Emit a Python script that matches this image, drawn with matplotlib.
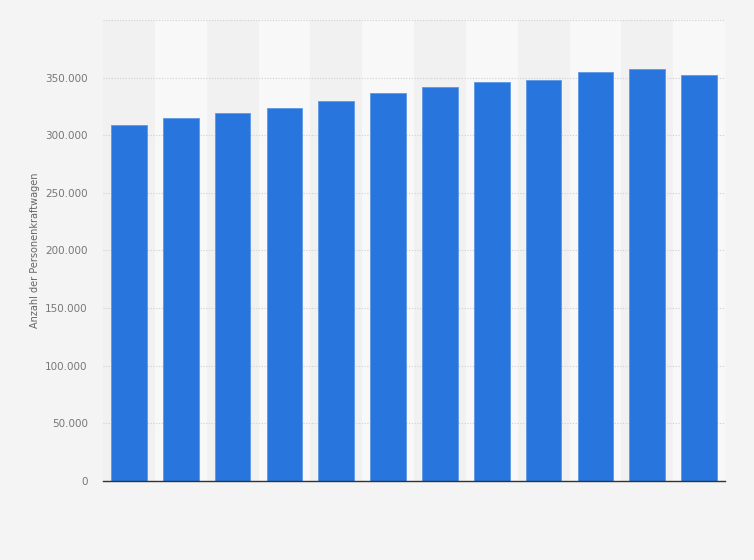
import matplotlib
matplotlib.use('Agg')
import matplotlib.pyplot as plt
from matplotlib.ticker import FuncFormatter

# Werte pro Jahr (Jahre im Original nicht beschriftet)
slots = list(range(12))
values = [309300, 314800, 319700, 323500, 329600, 336300,
          341500, 346100, 347800, 354800, 357400, 352200]
yticks = [0, 50000, 100000, 150000, 200000, 250000, 300000, 350000, 400000]


def de_fmt(v, pos):
    if v >= 400000:
        return ''
    return '{:,.0f}'.format(v).replace(',', '.')


def main():
    fig = plt.figure(figsize=(7.54, 5.6), dpi=100)
    fig.patch.set_facecolor('#f4f4f4')
    ax = fig.add_axes([103 / 754, 79 / 560, 622 / 754, 461 / 560])
    ax.set_facecolor('#f4f4f4')

    # abwechselnd hellere Spalten
    for i in slots:
        c = '#f1f1f1' if i % 2 == 0 else '#f8f8f8'
        ax.axvspan(i - 0.5, i + 0.5, color=c, zorder=0, lw=0)

    ax.bar(slots, values, width=0.69, color='#2876dd', edgecolor='#5d97e6',
           linewidth=0.6, zorder=3)

    ax.set_xlim(-0.5, 11.5)
    ax.set_ylim(0, 400000)
    ax.set_yticks(yticks)
    ax.yaxis.set_major_formatter(FuncFormatter(de_fmt))
    ax.set_xticks([])
    ax.grid(axis='y', color='#cfcfcf', linestyle=(0, (1, 1.5)), linewidth=0.8, zorder=1)
    ax.tick_params(axis='y', length=0, pad=11, labelsize=7.5, labelcolor='#777777')
    for s in ['top', 'right', 'left']:
        ax.spines[s].set_visible(False)
    ax.spines['bottom'].set_color('#333333')
    ax.spines['bottom'].set_linewidth(1.0)
    ax.spines['bottom'].set_zorder(4)

    ax.set_ylabel('Anzahl der Personenkraftwagen', fontsize=7, color='#666666', labelpad=4)

    plt.savefig('out.png', dpi=100, facecolor=fig.get_facecolor())


if __name__ == '__main__':
    main()
